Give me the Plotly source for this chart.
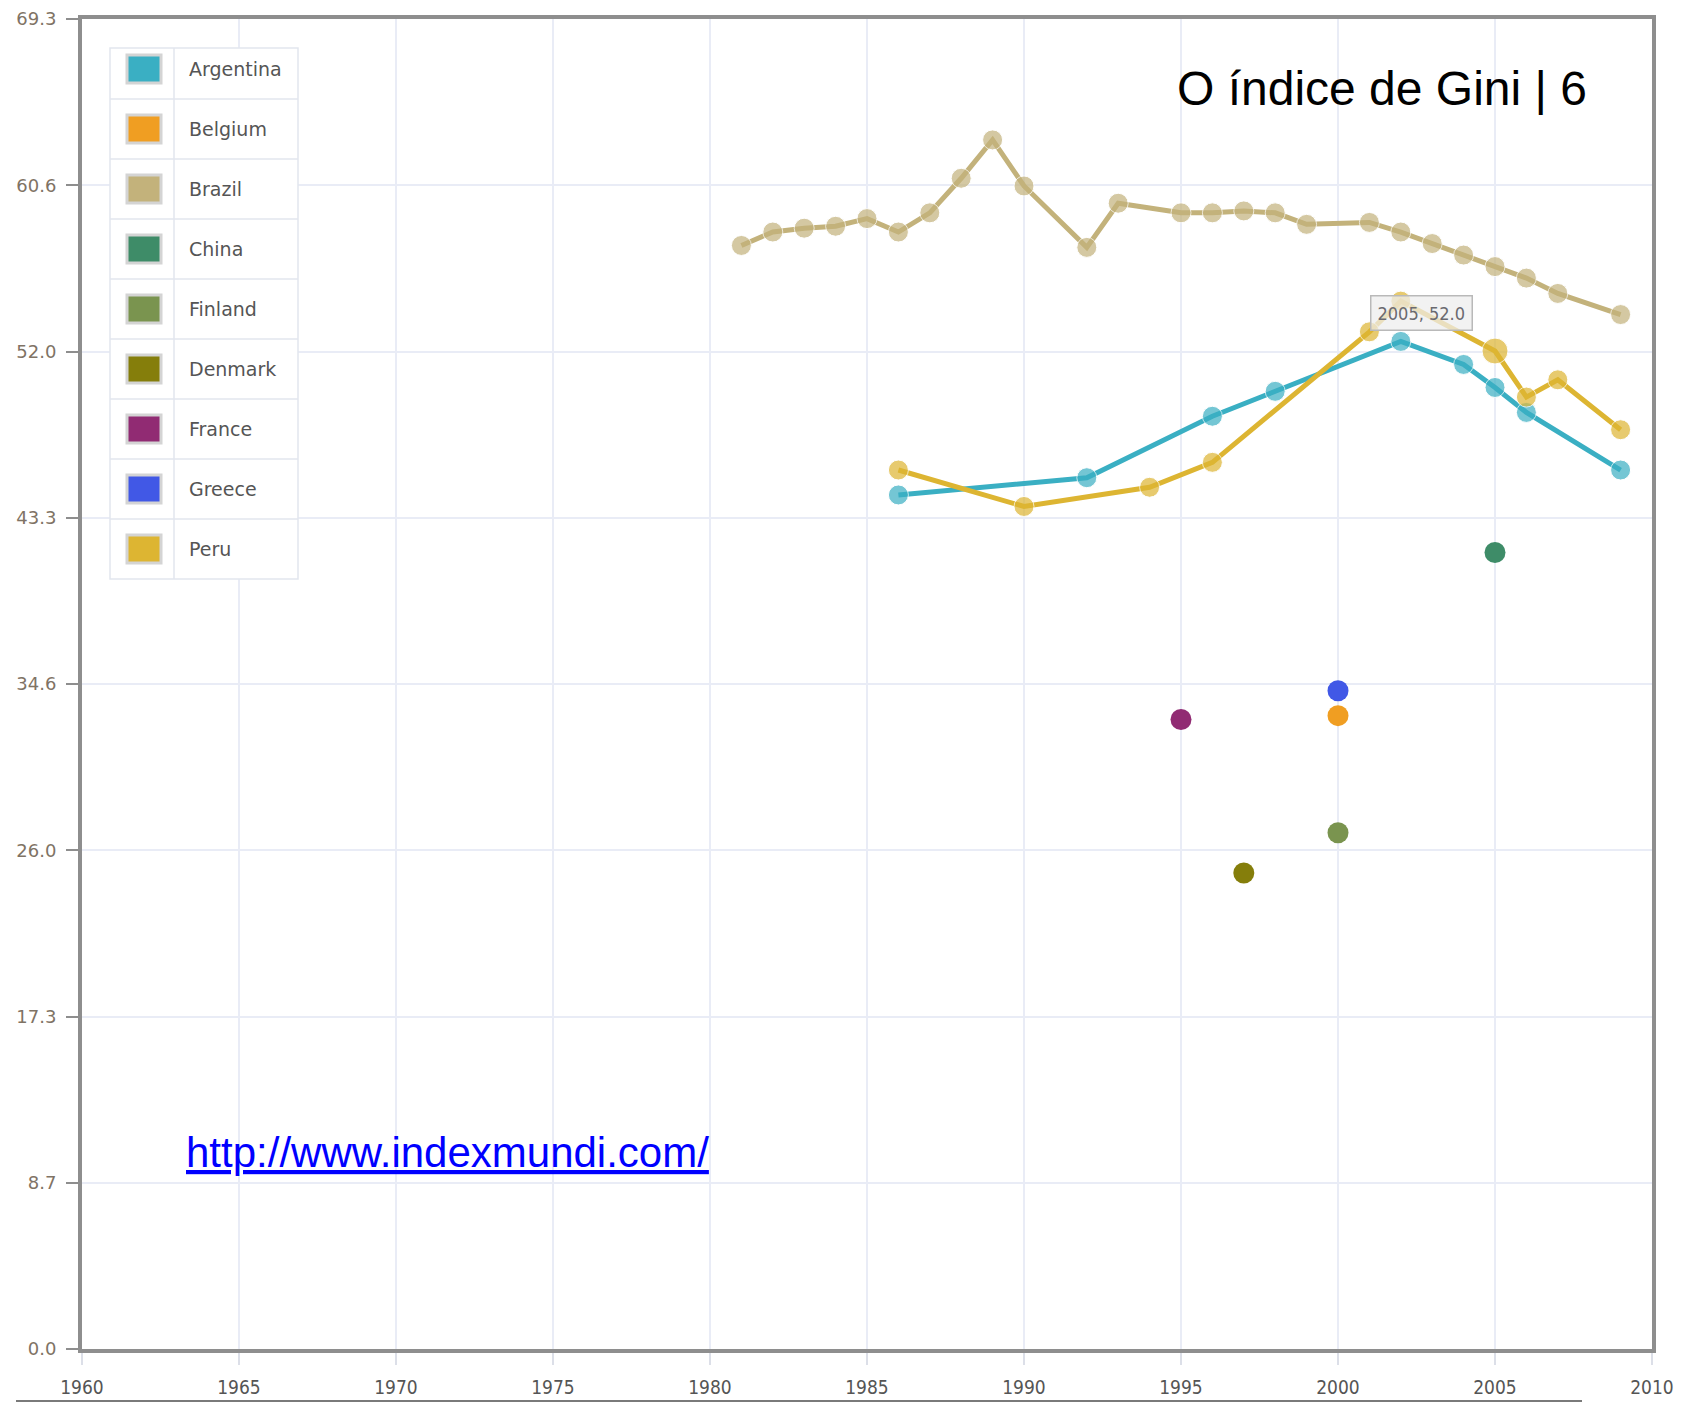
import plotly.graph_objects as go

# ---------------- data ----------------
countries = ["Argentina", "Belgium", "Brazil", "China", "Finland",
             "Denmark", "France", "Greece", "Peru"]
colors = ["#3AAFC3", "#F09E22", "#C3B27B", "#3E8C68", "#7A944F",
          "#857E0B", "#912B73", "#4158E6", "#DDB532"]

argentina_years = [1986, 1992, 1996, 1998, 2002, 2004, 2005, 2006, 2009]
argentina_gini = [44.5, 45.4, 48.6, 49.9, 52.5, 51.3, 50.1, 48.8, 45.8]

brazil_years = [1981, 1982, 1983, 1984, 1985, 1986, 1987, 1988, 1989, 1990,
                1992, 1993, 1995, 1996, 1997, 1998, 1999, 2001, 2002, 2003,
                2004, 2005, 2006, 2007, 2009]
brazil_gini = [57.5, 58.2, 58.4, 58.5, 58.9, 58.2, 59.2, 61.0, 63.0, 60.6,
               57.4, 59.7, 59.2, 59.2, 59.3, 59.2, 58.6, 58.7, 58.2, 57.6,
               57.0, 56.4, 55.8, 55.0, 53.9]

peru_years = [1986, 1990, 1994, 1996, 2001, 2002, 2005, 2006, 2007, 2009]
peru_gini = [45.8, 43.9, 44.9, 46.2, 53.0, 54.6, 52.0, 49.6, 50.5, 47.9]

belgium_years = [2000]
belgium_gini = [33.0]
china_years = [2005]
china_gini = [41.5]
finland_years = [2000]
finland_gini = [26.9]
denmark_years = [1997]
denmark_gini = [24.8]
france_years = [1995]
france_gini = [32.8]
greece_years = [2000]
greece_gini = [34.3]

x_tick_labels = ["1960", "1965", "1970", "1975", "1980", "1985",
                 "1990", "1995", "2000", "2005", "2010"]
y_tick_labels = ["0.0", "8.7", "17.3", "26.0", "34.6", "43.3", "52.0", "60.6", "69.3"]
y_max = 69.3

tooltip_text = "2005, 52.0"
title_text = "O índice de Gini | 6"
link_text = "http://www.indexmundi.com/"

# ---------------- layout helpers (pixel -> paper) ----------------
W, H = 1682, 1404
ML, MR, MT, MB = 82, 30, 19, 55
PW, PH = W - ML - MR, H - MT - MB


def px(x):
    return (x - ML) / PW


def py(y):
    return (H - MB - y) / PH


cmap = dict(zip(countries, colors))

fig = go.Figure()

line_series = [("Brazil", brazil_years, brazil_gini),
               ("Argentina", argentina_years, argentina_gini),
               ("Peru", peru_years, peru_gini)]
for name, xs, ys in line_series:
    sizes = [26 if (name == "Peru" and x == 2005) else 20 for x in xs]
    fig.add_trace(go.Scatter(
        x=xs, y=ys, mode="lines+markers", name=name,
        line=dict(color=cmap[name], width=5),
        marker=dict(color=cmap[name], size=sizes),
        showlegend=False))

point_series = [("China", china_years, china_gini),
                ("Greece", greece_years, greece_gini),
                ("Belgium", belgium_years, belgium_gini),
                ("France", france_years, france_gini),
                ("Finland", finland_years, finland_gini),
                ("Denmark", denmark_years, denmark_gini)]
for name, xs, ys in point_series:
    fig.add_trace(go.Scatter(
        x=xs, y=ys, mode="markers", name=name,
        marker=dict(color=cmap[name], size=21),
        showlegend=False))

shapes = []
annotations = []

# custom table-like legend
lg_left, lg_div, lg_right, lg_top, lg_bottom = 110, 174, 298, 48, 579
row_c0, row_h = 69, 60
shapes.append(dict(type="rect", xref="paper", yref="paper",
                   x0=px(lg_left), x1=px(lg_right), y0=py(lg_bottom), y1=py(lg_top),
                   fillcolor="white", line=dict(color="#e2e6ee", width=1.5), layer="above"))
shapes.append(dict(type="line", xref="paper", yref="paper",
                   x0=px(lg_div), x1=px(lg_div), y0=py(lg_bottom), y1=py(lg_top),
                   line=dict(color="#e2e6ee", width=1.5), layer="above"))
for i, (name, col) in enumerate(zip(countries, colors)):
    cy = row_c0 + row_h * i
    if i < len(countries) - 1:
        sy = cy + row_h / 2
        shapes.append(dict(type="line", xref="paper", yref="paper",
                           x0=px(lg_left), x1=px(lg_right), y0=py(sy), y1=py(sy),
                           line=dict(color="#e2e6ee", width=1.5), layer="above"))
    shapes.append(dict(type="rect", xref="paper", yref="paper",
                       x0=px(127), x1=px(161), y0=py(cy + 14), y1=py(cy - 14),
                       fillcolor=col, line=dict(color="#d4d4d4", width=3), layer="above"))
    annotations.append(dict(xref="paper", yref="paper", x=px(187), y=py(cy),
                            xanchor="left", yanchor="middle", showarrow=False,
                            text=name,
                            font=dict(family="DejaVu Sans", size=19, color="#555555")))

# title and link
annotations.append(dict(xref="paper", yref="paper", x=px(1589), y=py(88),
                        xanchor="right", yanchor="middle", showarrow=False,
                        text=title_text,
                        font=dict(family="Liberation Sans, Arial", size=48, color="#000000")))
annotations.append(dict(xref="paper", yref="paper", x=px(184), y=py(1152),
                        xanchor="left", yanchor="middle", showarrow=False,
                        text="<u>" + link_text + "</u>",
                        font=dict(family="Liberation Sans, Arial", size=42, color="#0000FF")))

# hover tooltip
annotations.append(dict(xref="x", yref="y", x=2002.65, y=54.0,
                        xanchor="center", yanchor="middle", showarrow=False,
                        text=tooltip_text,
                        bgcolor="rgba(238,238,238,0.75)", bordercolor="#b9b9b9",
                        borderwidth=1.5, borderpad=6,
                        font=dict(family="DejaVu Sans Condensed, DejaVu Sans", size=18,
                                  color="#6a6a70")))

# separator line under x labels
shapes.append(dict(type="line", xref="paper", yref="paper",
                   x0=px(16), x1=px(1582), y0=py(1401), y1=py(1401),
                   line=dict(color="#7a7a7a", width=2)))

n_y = len(y_tick_labels) - 1
y_tick_vals = [y_max * i / n_y for i in range(n_y + 1)]
x_tick_vals = [int(t) for t in x_tick_labels]

fig.update_layout(
    width=W, height=H,
    margin=dict(l=ML, r=MR, t=MT, b=MB),
    paper_bgcolor="white", plot_bgcolor="white",
    shapes=shapes, annotations=annotations,
    showlegend=False,
    xaxis=dict(range=[1960, 2010], tickvals=x_tick_vals, ticktext=x_tick_labels,
               automargin=False,
               showgrid=True, gridcolor="#e9ecf6", gridwidth=2,
               showline=True, linecolor="#8e8e8e", linewidth=4, mirror=True,
               ticks="outside", ticklen=12, tickcolor="#dcdfe8", tickwidth=2,
               ticklabelstandoff=6, zeroline=False,
               tickfont=dict(family="DejaVu Sans Condensed, DejaVu Sans", size=19,
                             color="#555555")),
    yaxis=dict(range=[0, y_max], tickvals=y_tick_vals, ticktext=y_tick_labels,
               automargin=False,
               showgrid=True, gridcolor="#e9ecf6", gridwidth=2,
               showline=True, linecolor="#8e8e8e", linewidth=4, mirror=True,
               ticks="outside", ticklen=12, tickcolor="#8e8e8e", tickwidth=2,
               ticklabelstandoff=6, zeroline=False,
               tickfont=dict(family="DejaVu Sans", size=18, color="#7f7365")),
)

fig.write_html("out.html",
               config={"displayModeBar": False},
               post_script="document.body.style.margin='0';document.body.style.overflow='hidden';")
